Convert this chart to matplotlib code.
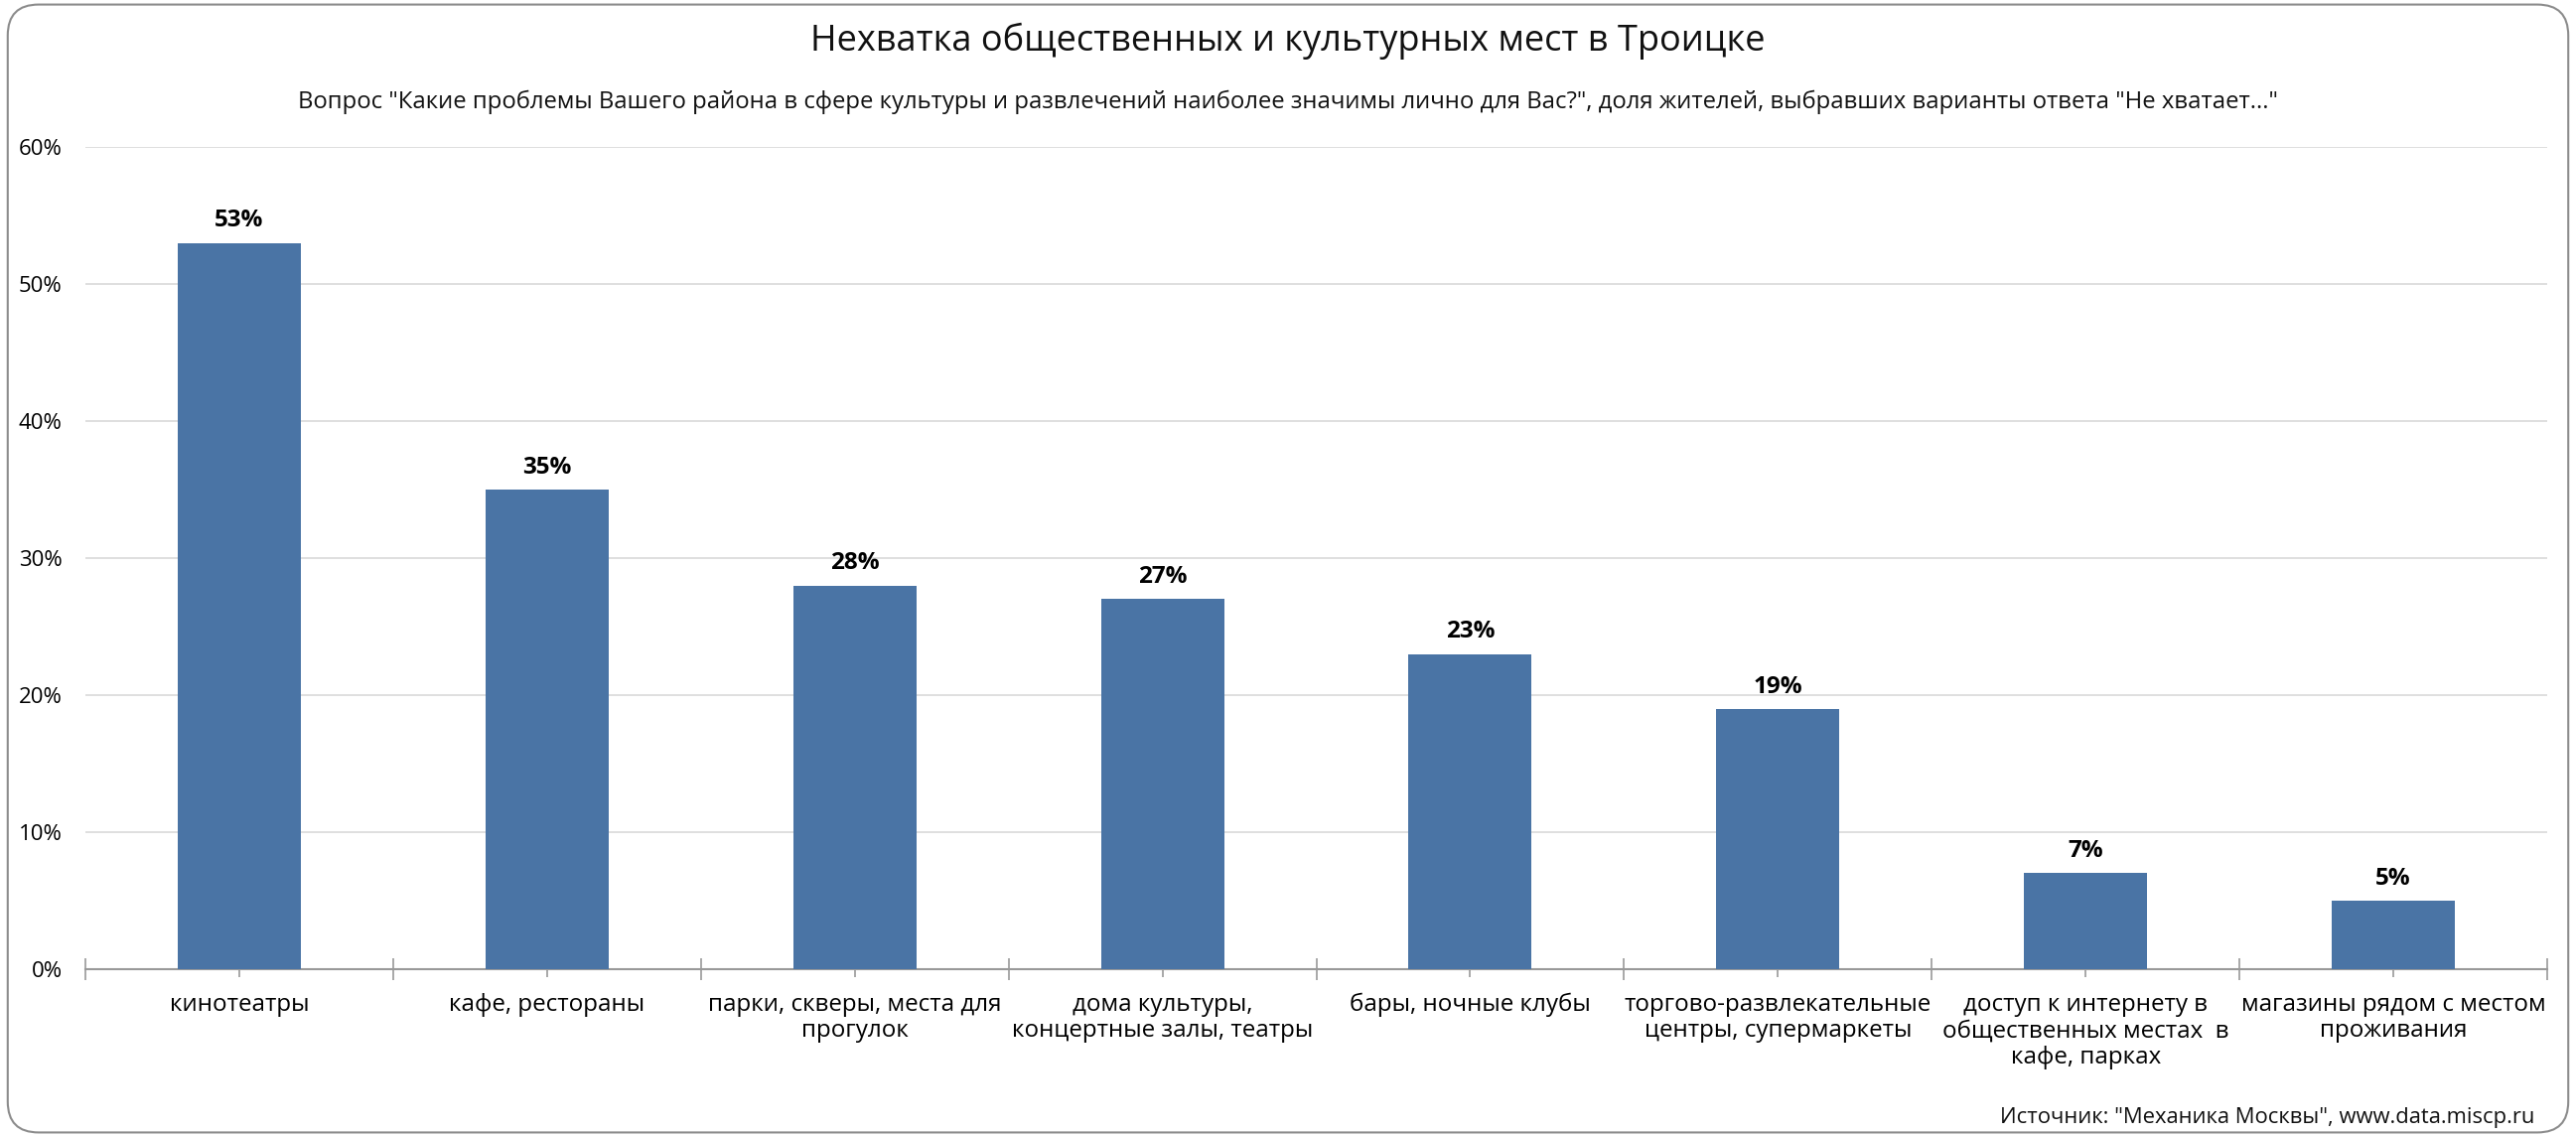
import numpy as np
import matplotlib.pyplot as plt
from matplotlib.patches import FancyBboxPatch

plt.rcParams['font.family'] = ['Open Sans', 'DejaVu Sans']

categories = ['кинотеатры', 'кафе, рестораны', 'парки, скверы, места для\nпрогулок',
              'дома культуры,\nконцертные залы, театры', 'бары, ночные клубы',
              'торгово-развлекательные\nцентры, супермаркеты',
              'доступ к интернету в\nобщественных местах  в\nкафе, парках',
              'магазины рядом с местом\nпроживания']
values = [53, 35, 28, 27, 23, 19, 7, 5]
yticks = [0, 10, 20, 30, 40, 50, 60]

bar_color = '#4A74A5'

fig = plt.figure(figsize=(25.94, 11.45), dpi=100)
# rounded frame round the whole picture
frame = FancyBboxPatch((0.003, 0.004), 0.994, 0.992, boxstyle='round,pad=0,rounding_size=0.012',
                       transform=fig.transFigure, fill=False, edgecolor='#8c8c8c', linewidth=1.5,
                       mutation_aspect=2594 / 1145)
fig.patches.append(frame)

ax = fig.add_axes([0.0332, 0.1476, 0.9556, 0.7231])
x = np.arange(len(values))
ax.bar(x, values, width=0.4, color=bar_color, zorder=3)

for xi, v in zip(x, values):
    ax.annotate(f'{v}%', (xi, v), xytext=(0, 16), textcoords='offset points',
                ha='center', va='center', fontsize=17.5, fontweight='bold', color='black')

ax.set_xlim(-0.5, len(values) - 0.5)
ax.set_ylim(0, 60)
ax.set_yticks(yticks)
ax.set_yticklabels([f'{t}%' for t in yticks], fontsize=16)
ax.tick_params(axis='y', length=0, pad=17)
ax.yaxis.grid(True, color='#d9d9d9', linewidth=1.2, zorder=0)

ax.set_xticks(np.arange(-0.5, len(values) + 0.5, 1))
ax.set_xticklabels([])
ax.set_xticks(x, minor=True)
ax.set_xticklabels(categories, minor=True, fontsize=17.4, linespacing=1.15)
ax.tick_params(axis='x', which='major', direction='inout', length=16, color='#999999', width=1.2)
ax.tick_params(axis='x', which='minor', direction='inout', length=12, color='#999999', width=1.2, pad=11)

for s in ['top', 'right', 'left']:
    ax.spines[s].set_visible(False)
ax.spines['bottom'].set_color('#999999')
ax.spines['bottom'].set_linewidth(1.5)

fig.text(0.5, 1 - 41 / 1145, 'Нехватка общественных и культурных мест в Троицке',
         ha='center', va='center', fontsize=26, color='#111111')
fig.text(0.5, 1 - 103 / 1145,
         'Вопрос "Какие проблемы Вашего района в сфере культуры и развлечений наиболее значимы лично для Вас?", '
         'доля жителей, выбравших варианты ответа "Не хватает..."',
         ha='center', va='center', fontsize=17.2, color='#111111')
fig.text(2552 / 2594, 1 - 1125 / 1145, 'Источник: "Механика Москвы", www.data.miscp.ru',
         ha='right', va='center', fontsize=15.8, color='#111111')

fig.savefig('out.png', dpi=100)
